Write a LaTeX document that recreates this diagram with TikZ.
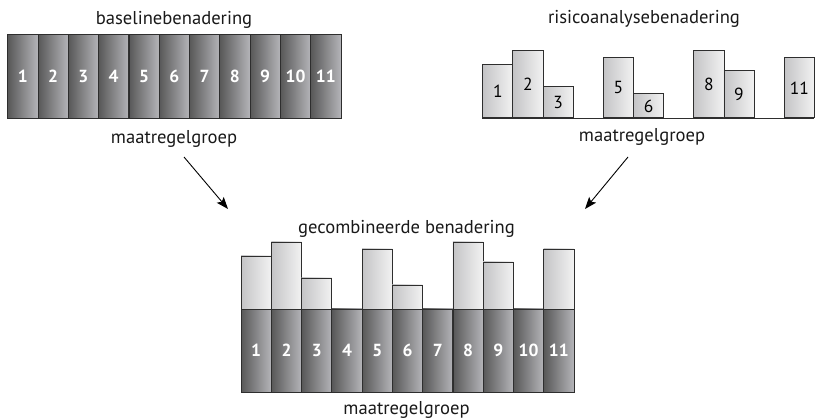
\documentclass[tikz,border=0pt]{standalone}
\usepackage{fontspec}
\setmainfont{PT Sans}
\usetikzlibrary{arrows.meta}
\definecolor{dkL}{HTML}{585858}
\definecolor{dkR}{HTML}{B4B4B8}
\definecolor{ltL}{HTML}{C4C4C6}
\definecolor{ltR}{HTML}{F2F2F2}
\definecolor{edge}{HTML}{2E2E2E}
\tikzset{
  darkbar/.style={draw=edge, line width=0.8pt, left color=dkL, right color=dkR,
    minimum width=30.2pt, minimum height=84pt, inner sep=0pt, anchor=south west,
    text=white, font=\fontsize{17.5}{17.5}\selectfont\bfseries},
  lightbar/.style={draw=edge, line width=0.8pt, left color=ltL, right color=ltR,
    minimum width=30.2pt, minimum height=#1pt, inner sep=0pt, anchor=south west,
    text=black, font=\fontsize{17.5}{17.5}\selectfont},
  lbl/.style={font=\fontsize{18.6}{18.6}\selectfont, text=black!90, inner sep=0pt, anchor=base},
  arr/.style={line width=0.9pt, -{Stealth[length=12pt,width=9pt,inset=2.5pt]}}
}
\begin{document}
\begin{tikzpicture}[x=1pt,y=-1pt]
\useasboundingbox (0,0) rectangle (815,420);
% ---------- top left: baseline ----------
\foreach \i in {1,...,11}{
  \node[darkbar] (bl\i) at ({7.3+(\i-1)*30.3},119) {\i};
}
\node[lbl] (t1) at (174,24.5) {baselinebenadering};
\node[lbl] (m1) at (174,143.5) {maatregelgroep};
% ---------- top right: risk ----------
\draw[edge, line width=0.8pt] (482.3,118.3) -- (814,118.3);
\foreach \i/\h in {1/53,2/67,3/31,5/60,6/24,8/67,9/47,11/60}{
  \node[lightbar=\h] (r\i) at ({482.3+(\i-1)*30.15},118.3) {\i};
}
\node[lbl] (t2) at (644,24) {risicoanalysebenadering};
\node[lbl] (m2) at (642,142) {maatregelgroep};
% ---------- bottom: combined ----------
\foreach \i in {1,...,11}{
  \node[darkbar, minimum height=83.4pt] (cd\i) at ({240.7+(\i-1)*30.26},392.7) {\i};
}
\foreach \i/\h in {1/53,2/67,3/31,5/60,6/24,8/67,9/47,11/60}{
  \node[lightbar=\h] (cl\i) at ({240.7+(\i-1)*30.26},309.3) {};
}
\node[lbl] (t3) at (406.5,233.3) {gecombineerde benadering};
\node[lbl] (m3) at (406.5,414) {maatregelgroep};
% ---------- arrows ----------
\coordinate (a1s) at (184,157);
\coordinate (a1e) at (228,209);
\coordinate (a2s) at (628,157);
\coordinate (a2e) at (585,209);
\draw[arr] (a1s) -- (a1e);
\draw[arr] (a2s) -- (a2e);
\end{tikzpicture}
\end{document}
